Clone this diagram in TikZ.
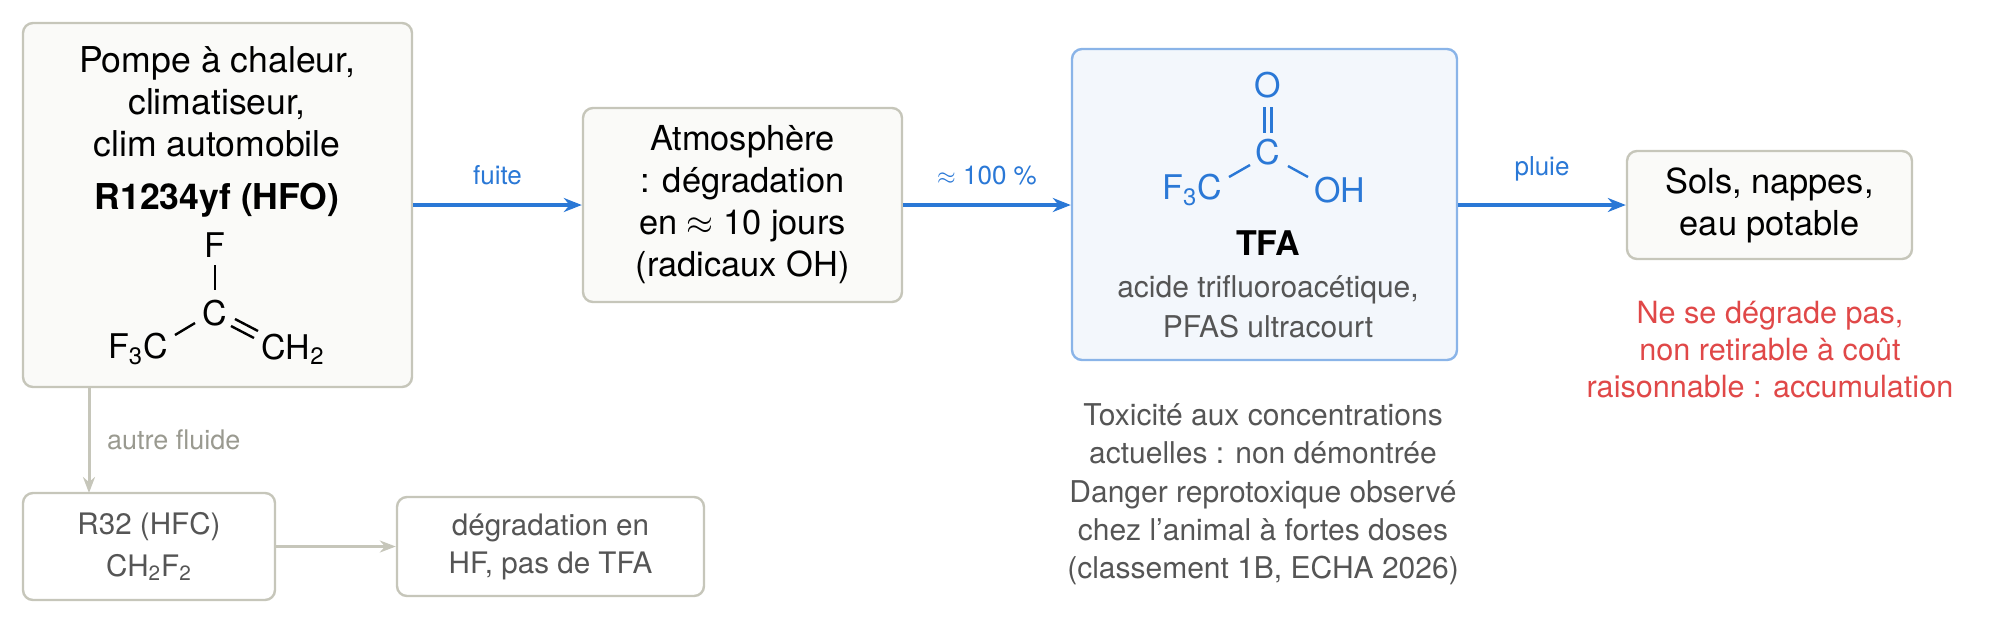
\documentclass[tikz,border=0pt]{standalone}
\usepackage{fontspec}
\setmainfont{TeX Gyre Heros}
\usetikzlibrary{arrows.meta}
\definecolor{bl}{HTML}{2A78D6}
\definecolor{bd}{HTML}{C6C6BA}
\definecolor{bf}{HTML}{FAFAF8}
\definecolor{tb}{HTML}{8AB4E8}
\definecolor{tf}{HTML}{F3F7FC}
\definecolor{gt}{HTML}{555555}
\definecolor{gl}{HTML}{9A9A90}
\definecolor{rd}{HTML}{E04848}
\begin{document}
\begin{tikzpicture}[x=0.5pt,y=-0.5pt,
  box/.style={draw=bd,fill=bf,line width=1.2pt,rounded corners=5pt,inner sep=0pt},
  wbox/.style={draw=bd,fill=white,line width=1.2pt,rounded corners=5pt,inner sep=0pt,align=center,font=\fontsize{14.8}{19}\selectfont,text=gt},
  main/.style={font=\fontsize{17.2}{21}\selectfont,align=center,inner sep=0pt},
  mol/.style={font=\fontsize{17}{21}\selectfont,inner sep=0pt},
  bflow/.style={draw=bl,line width=2pt,-{Stealth[length=9pt,width=7pt]}},
  gflow/.style={draw=bd,line width=1.5pt,-{Stealth[length=8pt,width=6pt]}},
  lab/.style={font=\fontsize{13}{15}\selectfont,text=bl,inner sep=0pt}]
\useasboundingbox (0,0) rectangle (2002,623);
% box 1
\node[box,minimum width=194.5pt,minimum height=182pt] (b1) at (217.5,205) {};
\node[main,font=\fontsize{17.8}{21}\selectfont] (t1) at (217,102) {Pompe à chaleur,\\climatiseur,\\clim automobile};
\node[main,font=\fontsize{17.8}{21}\selectfont\bfseries] (r1) at (217,200) {R1234yf (HFO)};
\node[mol] (f1) at (215,245) {F};
\node[mol] (c1) at (215,313) {C};
\node[mol] (f3c) at (138,349) {F\textsubscript{3}C};
\node[mol] (ch2) at (293,349) {CH\textsubscript{2}};
\draw[line width=1.2pt] (215,265) -- (215,290);
\draw[line width=1.2pt] (195,323) -- (175,335);
\draw[line width=1.2pt] (235,319) -- (258,331);
\draw[line width=1.2pt] (231,326) -- (254,338);
% box 2
\node[box,minimum width=159.5pt,minimum height=97pt,main] (b2) at (742.5,205) {Atmosphère\\: dégradation\\en $\approx$ 10 jours\\(radicaux OH)};
% box 3
\node[box,draw=tb,fill=tf,minimum width=192.5pt,minimum height=155.5pt] (b3) at (1264.5,204.5) {};
\node[mol,text=bl] (o3) at (1268,85) {O};
\node[mol,text=bl] (c3) at (1268,152) {C};
\node[mol,text=bl] (f3) at (1192,190) {F\textsubscript{3}C};
\node[mol,text=bl] (oh) at (1340,190) {OH};
\draw[bl,line width=1.2pt] (1264.5,107) -- (1264.5,133) (1271.5,107) -- (1271.5,133);
\draw[bl,line width=1.2pt] (1250,165) -- (1229,177) (1288,166) -- (1308,177);
\node[main,font=\fontsize{17}{21}\selectfont\bfseries] (tfa) at (1268,243) {TFA};
\node[main,font=\fontsize{15}{20}\selectfont,text=gt] (tfad) at (1268,307) {acide trifluoroacétique,\\PFAS ultracourt};
% box 4
\node[box,minimum width=142.5pt,minimum height=54pt,main] (b4) at (1769.5,205) {Sols, nappes,\\eau potable};
\node[main,font=\fontsize{15.3}{18.5}\selectfont,text=rd] (red) at (1770,350) {Ne se dégrade pas,\\non retirable à coût\\raisonnable : accumulation};
% toxicity
\node[main,font=\fontsize{15}{19}\selectfont,text=gt] (tox1) at (1263,434) {Toxicité aux concentrations\\actuelles : non démontrée};
\node[main,font=\fontsize{15}{19}\selectfont,text=gt] (tox2) at (1263,533) {Danger reprotoxique observé\\chez l’animal à fortes doses\\(classement 1B, ECHA 2026)};
% lower boxes
\node[wbox,minimum width=126pt,minimum height=53.5pt] (b5) at (149,546.5) {R32 (HFC)\\[2pt]CH\textsubscript{2}F\textsubscript{2}};
\node[wbox,minimum width=153.5pt,minimum height=49.5pt] (b6) at (550.5,546.5) {dégradation en\\HF, pas de TFA};
% arrows
\draw[bflow] (b1.east) -- node[lab,above=9pt] (l1) {fuite} (b2.west);
\draw[bflow] (b2.east) -- node[lab,above=9pt] (l2) {$\approx$ 100 \%} (b3.west |- 0,205);
\draw[bflow] (b3.east |- 0,205) -- node[lab,above=11pt] (l3) {pluie} (b4.west);
\coordinate (d1) at (89,387);
\coordinate (d2) at (89,493);
\draw[gflow] (d1) -- node[right=5pt,font=\fontsize{13.5}{15}\selectfont,text=gl] (l4) {autre fluide} (d2);
\draw[gflow] (b5.east) -- (b6.west);
\end{tikzpicture}
\end{document}
